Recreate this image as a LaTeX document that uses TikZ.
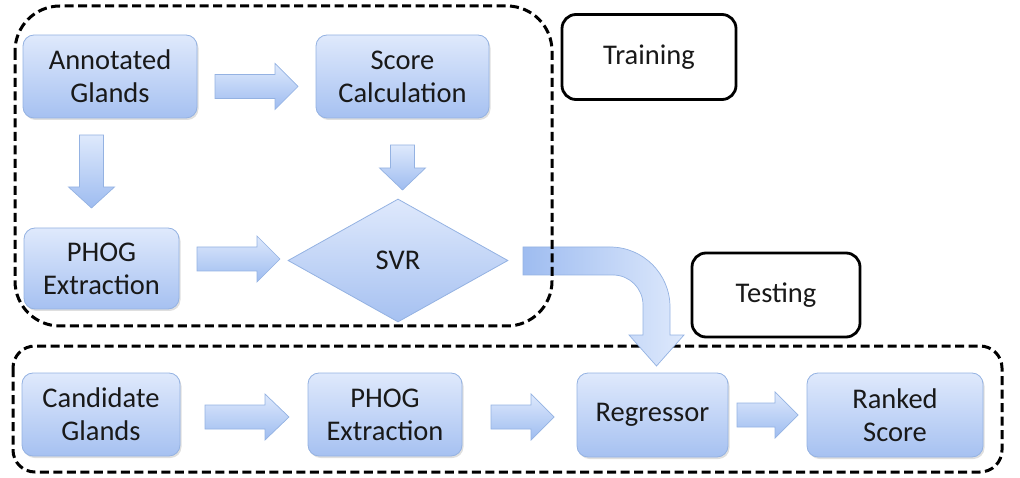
\documentclass[tikz,border=0pt]{standalone}
\usepackage{fontspec}
\setmainfont{Carlito}
\usetikzlibrary{shapes.geometric,shadows}
\definecolor{boxtop}{RGB}{223,233,252}
\definecolor{boxbot}{RGB}{166,193,241}
\definecolor{boxline}{RGB}{148,178,226}
\definecolor{arrdark}{RGB}{158,188,240}
\definecolor{arrlight}{RGB}{222,233,252}
\newcommand\harrow[4]{%
  \draw[blockarr] (#1,#2-12) -- (#1+#3-#4,#2-12) -- (#1+#3-#4,#2-23) -- (#1+#3,#2)
    -- (#1+#3-#4,#2+23) -- (#1+#3-#4,#2+12) -- (#1,#2+12) -- cycle;}
\newcommand\varrow[4]{%
  \draw[blockarr] (#1-12,#2) -- (#1-12,#2+#3-#4) -- (#1-23,#2+#3-#4) -- (#1,#2+#3)
    -- (#1+23,#2+#3-#4) -- (#1+12,#2+#3-#4) -- (#1+12,#2) -- cycle;}
\begin{document}
\begin{tikzpicture}[x=1pt,y=-1pt,
  txt/.style={font=\fontsize{28.5}{33}\selectfont, text=black!90, align=center},
  box/.style={txt, draw=boxline, line width=0.8pt, rounded corners=11pt,
    top color=boxtop, bottom color=boxbot, inner sep=0pt,
    drop shadow={opacity=0.25, shadow xshift=1.5pt, shadow yshift=-2pt}},
  diam/.style={txt, diamond, draw=boxline, line width=0.8pt,
    top color=boxtop, bottom color=boxbot, inner sep=0pt},
  blockarr/.style={draw=boxline, line width=0.7pt, top color=arrlight, bottom color=arrdark},
  group/.style={draw=black, line width=3pt, dash pattern=on 9pt off 4.5pt},
  tag/.style={txt, draw=black, line width=2.8pt, rounded corners=14pt, fill=white, inner sep=0pt}]
\useasboundingbox (0,0) rectangle (1020,478);

% bottom group frame
\draw[group, rounded corners=22pt] (13,346) rectangle (1002,472);

% curved arrow from training to testing
\draw[draw=boxline, line width=0.7pt, left color=arrdark, right color=arrlight]
  (523,247) -- (610,247) arc[start angle=90, end angle=0, radius=60pt]
  -- (670,335) -- (684,335) -- (656.5,366) -- (629,335) -- (643,335) -- (643,305)
  arc[start angle=0, end angle=90, radius=30pt] -- (523,275) -- cycle;

% top group frame
\draw[group, rounded corners=45pt] (15,6) rectangle (552,326);

% training nodes
\node[box, minimum width=174pt, minimum height=83pt] (ann) at (110,76.5) {Annotated\\Glands};
\node[box, minimum width=173pt, minimum height=83pt] (score) at (402.5,76.5) {Score\\Calculation};
\node[box, minimum width=155pt, minimum height=81pt] (phog1) at (101.5,268.5) {PHOG\\Extraction};
\node[diam, minimum width=220pt, minimum height=123pt] (svr) at (398,260.5) {SVR};

% testing nodes
\node[box, minimum width=158pt, minimum height=83pt] (cand) at (101,414.5) {Candidate\\Glands};
\node[box, minimum width=154pt, minimum height=83pt] (phog2) at (385,414.5) {PHOG\\Extraction};
\node[box, minimum width=151pt, minimum height=84pt] (reg) at (652.5,415) {Regressor};
\node[box, minimum width=176pt, minimum height=84pt] (rank) at (895,415) {Ranked\\Score};

% tags
\node[tag, minimum width=174pt, minimum height=85pt] (train) at (649,57) {Training};
\node[tag, minimum width=168pt, minimum height=84pt] (test) at (776,295) {Testing};

% block arrows
\harrow{215}{86.5}{83}{23}
\varrow{91.5}{135}{73}{21}
\varrow{402.5}{145}{45}{22}
\harrow{197}{259}{83}{23}
\harrow{205}{417}{84}{24}
\harrow{491}{417}{63}{23}
\harrow{737}{415}{61}{23}
\end{tikzpicture}
\end{document}
